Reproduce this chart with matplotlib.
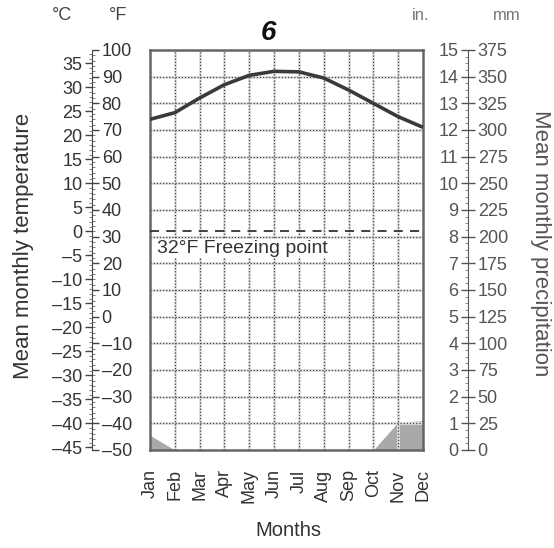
import numpy as np
import matplotlib
matplotlib.use("Agg")
from matplotlib import pyplot as plt

# climograph values
months = ["Jan", "Feb", "Mar", "Apr", "May", "Jun", "Jul", "Aug", "Sep", "Oct", "Nov", "Dec"]
temp_f = [74, 76.5, 82, 87, 90.5, 92, 91.8, 89.5, 85, 80, 75, 71]
precip_in = [0.55, 0, 0, 0, 0, 0, 0, 0, 0, 0, 1.05, 1.1]

f_ticks = list(range(-50, 101, 10))
c_ticks = list(range(-45, 36, 5))
in_ticks = list(range(0, 16))
mm_ticks = list(range(0, 376, 25))
freezing_f = 32

plt.rcParams['font.family'] = ['Liberation Sans', 'DejaVu Sans']

W, H = 554, 548
fig = plt.figure(figsize=(W / 100, H / 100), dpi=100)
bot = 1 - 450 / H
hgt = 400 / H

def lab(v):
    return str(v).replace("-", "\u2013")

# main plot box
ax = fig.add_axes([150 / W, bot, 273 / W, hgt])
x = np.arange(len(months))
ax.set_xlim(0, len(months) - 1)
ax.set_ylim(-50, 100)
ax.set_yticks([])
ax.set_xticks(x)
ax.set_xticklabels(months, rotation=90, fontsize=13, color="#333")
ax.tick_params(axis="x", length=0, pad=14)
for s in ax.spines.values():
    s.set_color("#666")
    s.set_linewidth(1.8)

for v in f_ticks[1:-1]:
    ax.axhline(v, color="#e2e2e2", lw=2, zorder=1)
    ax.axhline(v, color="#444", lw=0.9, ls=(0, (1, 1.5)), zorder=2)
for v in x[1:-1]:
    ax.axvline(v, color="#e2e2e2", lw=2, zorder=1)
    ax.axvline(v, color="#444", lw=0.9, ls=(0, (1, 1.5)), zorder=2)

# precipitation on its own scale
axp = ax.twinx()
axp.set_ylim(0, 15)
axp.set_yticks([])
axp.fill_between(x, 0, precip_in, color="#a9a9a9", lw=0, zorder=3)
for s in axp.spines.values():
    s.set_visible(False)

ax.set_zorder(axp.get_zorder() + 1)
ax.patch.set_visible(False)

ax.axhline(freezing_f, color="#333", lw=1.3, ls=(0, (5, 4)), zorder=4)
ax.text(0.28, 25.5, "32\u00b0F Freezing point", fontsize=14, color="#333",
        va="center", ha="left", zorder=5,
        bbox=dict(facecolor="white", edgecolor="none", pad=0.5))
ax.plot(x, temp_f, color="#3a3a3a", lw=2.6, zorder=6, solid_capstyle="butt")

# Fahrenheit / Celsius scale
axf = fig.add_axes([92 / W, bot, 1e-5, hgt])
axc = axf.twinx()
axf.set_ylim(-50, 100)
axf.set_xticks([])
for s in ["top", "bottom", "right"]:
    axf.spines[s].set_visible(False)
axf.spines["left"].set_color("#444")
axf.yaxis.set_ticks_position("right")
axf.set_yticks(f_ticks)
axf.set_yticklabels([lab(v) for v in f_ticks], fontsize=13, color="#333")
axf.set_yticks(range(-50, 101, 2), minor=True)
axf.tick_params(axis="y", which="major", length=5, width=1, color="#444", pad=2)
axf.tick_params(axis="y", which="minor", length=2, width=0.6, color="#666")

axc.set_ylim((-50 - 32) / 1.8, (100 - 32) / 1.8)
for s in axc.spines.values():
    s.set_visible(False)
axc.yaxis.set_ticks_position("left")
axc.yaxis.set_label_position("left")
axc.set_yticks(c_ticks)
axc.set_yticklabels([lab(v) for v in c_ticks], fontsize=13, color="#333")
axc.set_yticks(range(-45, 38), minor=True)
axc.tick_params(axis="y", which="major", length=5, width=1, color="#444", pad=2)
axc.tick_params(axis="y", which="minor", length=2, width=0.6, color="#666")

# inches / millimetres scale
axi = fig.add_axes([468 / W, bot, 1e-5, hgt])
axm = axi.twinx()
axi.set_ylim(0, 15)
axi.set_xticks([])
for s in ["top", "bottom", "right"]:
    axi.spines[s].set_visible(False)
axi.spines["left"].set_color("#555")
axi.yaxis.set_ticks_position("left")
axi.set_yticks(in_ticks)
axi.set_yticklabels([str(v) for v in in_ticks], fontsize=13, color="#555")
axi.set_yticks(np.arange(0, 15.01, 0.25), minor=True)
axi.tick_params(axis="y", which="major", length=5, width=1, color="#555", pad=2)
axi.tick_params(axis="y", which="minor", length=2, width=0.6, color="#777")

axm.set_ylim(0, 375)
for s in axm.spines.values():
    s.set_visible(False)
axm.yaxis.set_ticks_position("right")
axm.set_yticks(mm_ticks)
axm.set_yticklabels([str(v) for v in mm_ticks], fontsize=13, color="#555")
axm.tick_params(axis="y", which="major", length=5, width=1, color="#555", pad=2)

# labels and headers
fig.text(24 / W, 1 - 246 / H, "Mean monthly temperature", rotation=90,
         fontsize=16, color="#333", ha="center", va="center")
fig.text(540 / W, 1 - 243 / H, "Mean monthly precipitation", rotation=-90,
         fontsize=16, color="#555", ha="center", va="center")
fig.text(288 / W, 1 - 530 / H, "Months", fontsize=14.5, color="#333",
         ha="center", va="center")
fig.text(62 / W, 1 - 15 / H, "\u00b0C", fontsize=13, color="#444", ha="center", va="center")
fig.text(118 / W, 1 - 15 / H, "\u00b0F", fontsize=13, color="#444", ha="center", va="center")
fig.text(421 / W, 1 - 15 / H, "in.", fontsize=12, color="#777", ha="center", va="center")
fig.text(507 / W, 1 - 15 / H, "mm", fontsize=12, color="#777", ha="center", va="center")
fig.text(268 / W, 1 - 33 / H, "6", fontsize=20, style="italic", fontweight="bold",
         color="#111", ha="center", va="center")

fig.savefig("out.png", dpi=100)
